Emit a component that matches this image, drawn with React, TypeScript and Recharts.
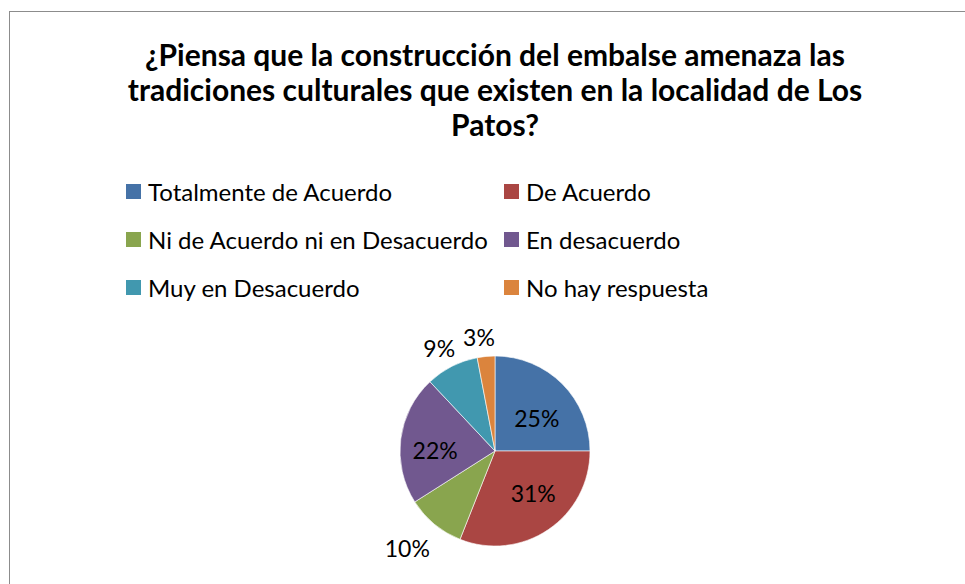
import React from 'react';
import { PieChart, Pie, Cell, Legend } from 'recharts';

const categories = [
  'Totalmente de Acuerdo',
  'De Acuerdo',
  'Ni de Acuerdo ni en Desacuerdo',
  'En desacuerdo',
  'Muy en Desacuerdo',
  'No hay respuesta',
];
const shares = [25, 31, 10, 22, 9, 3];
const colors = ['#4572A7', '#AA4643', '#89A54E', '#71588F', '#4198AF', '#DB843D'];

const titleLines = [
  '¿Piensa que la construcción del embalse amenaza las',
  'tradiciones culturales que existen en la localidad de Los',
  'Patos?',
];

const data = categories.map((name, i) => ({ name, value: shares[i] }));

// where each percent label sits: radius factor and angle nudge (degrees)
const labelRadius = [0.56, 0.6, 1.38, 0.63, 1.23, 1.21];
const labelNudge = [-6.8, 7.9, -2.4, 6.2, 1.5, 2.6];

const FONT = 'Lato, "Open Sans", sans-serif';
const RAD = Math.PI / 180;

const renderLabel = (props: any) => {
  const { cx, cy, midAngle, outerRadius, percent, index } = props;
  const r = outerRadius * labelRadius[index];
  const a = (midAngle + labelNudge[index]) * RAD;
  const x = cx + r * Math.cos(-a);
  const y = cy + r * Math.sin(-a);
  return (
    <text x={x} y={y} textAnchor="middle" dominantBaseline="central" fill="#000" fontSize={23} fontFamily={FONT}>
      {`${Math.round(percent * 100)}%`}
    </text>
  );
};

const renderLegend = (props: any) => {
  const items = [...(props.payload || [])].sort(
    (a: any, b: any) => categories.indexOf(a.value) - categories.indexOf(b.value)
  );
  // height 0 so the legend does not push the pie down
  return (
    <div style={{ position: 'relative', width: 965, height: 0, fontFamily: FONT, fontSize: 24, color: '#000' }}>
      {items.map((entry: any, i: number) => {
        const col = i % 2;
        const row = Math.floor(i / 2);
        return (
          <div
            key={entry.value}
            style={{
              position: 'absolute',
              left: col === 0 ? 126 : 504,
              top: row * 48,
              height: 30,
              display: 'flex',
              alignItems: 'center',
              whiteSpace: 'nowrap',
            }}
          >
            <span style={{ width: 15, height: 15, background: entry.color, display: 'inline-block', marginRight: 7 }} />
            <span>{entry.value}</span>
          </div>
        );
      })}
    </div>
  );
};

export default function App() {
  return (
    <div style={{ position: 'absolute', left: 0, top: 0, width: 965, height: 584, overflow: 'hidden', background: '#fff' }}>
      <div style={{ position: 'absolute', left: 9, top: 11, width: 1000, height: 700, border: '1px solid #8c8c8c' }} />
      <div
        style={{
          position: 'absolute',
          left: 0,
          top: 37,
          width: 990,
          textAlign: 'center',
          fontFamily: FONT,
          fontWeight: 'bold',
          fontSize: 30,
          lineHeight: '35px',
          color: '#000',
        }}
      >
        {titleLines.map((t) => (
          <div key={t}>{t}</div>
        ))}
      </div>
      <div style={{ position: 'absolute', left: 0, top: 0 }}>
        <PieChart width={965} height={584} margin={{ top: 0, right: 0, bottom: 0, left: 0 }}>
          <Legend
            verticalAlign="top"
            content={renderLegend}
            wrapperStyle={{ position: 'absolute', top: 176, left: 0, width: 965 }}
          />
          <Pie
            data={data}
            dataKey="value"
            nameKey="name"
            cx={495}
            cy={451}
            outerRadius={95}
            startAngle={90}
            endAngle={-270}
            stroke="#ffffff"
            strokeWidth={0.6}
            label={renderLabel}
            labelLine={false}
            isAnimationActive={false}
          >
            {data.map((d, i) => (
              <Cell key={d.name} fill={colors[i]} />
            ))}
          </Pie>
        </PieChart>
      </div>
    </div>
  );
}
